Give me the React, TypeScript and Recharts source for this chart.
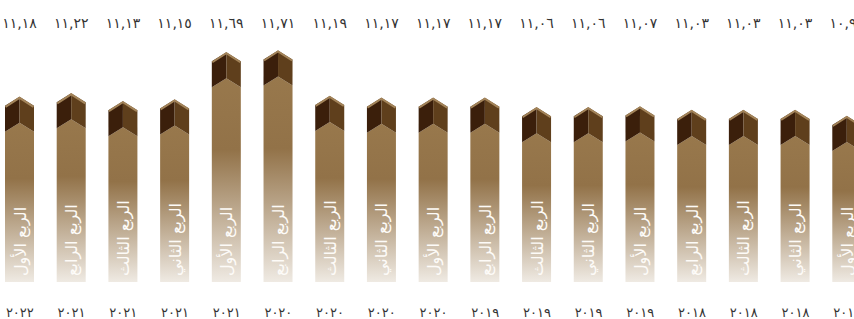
import React from "react";
import { BarChart, Bar, XAxis, YAxis, LabelList } from "recharts";

// newest quarter on the left, as in the source graphic
const years = [2022, 2021, 2021, 2021, 2021, 2020, 2020, 2020, 2020, 2019, 2019, 2019, 2019, 2018, 2018, 2018, 2018];
const quarters = [
  "الربع الأول",
  "الربع الرابع",
  "الربع الثالث",
  "الربع الثاني",
  "الربع الأول",
  "الربع الرابع",
  "الربع الثالث",
  "الربع الثاني",
  "الربع الأول",
  "الربع الرابع",
  "الربع الثالث",
  "الربع الثاني",
  "الربع الأول",
  "الربع الرابع",
  "الربع الثالث",
  "الربع الثاني",
  "الربع الأول",
];
const values = [11.18, 11.22, 11.13, 11.15, 11.69, 11.71, 11.19, 11.17, 11.17, 11.17, 11.06, 11.06, 11.07, 11.03, 11.03, 11.03, 10.96];

const rows = values.map((v, i) => ({ key: `${years[i]}-${i}`, value: v, year: years[i], quarter: quarters[i] }));

const AR_DIGITS = "٠١٢٣٤٥٦٧٨٩";
const toArabic = (s: string) => s.replace(/[0-9]/g, (d) => AR_DIGITS[Number(d)]);
const fmtValue = (v: number) => toArabic(v.toFixed(2).replace(".", ","));

const FONT = "'DejaVu Sans', sans-serif";

function PrismBar(props: any) {
  const { x, y, width, height, payload } = props;
  if (!width || !height) return null;
  const cx = x + width / 2;
  const bottom = y + height;
  const rise = 9;
  const cap = 26;
  return (
    <g>
      <path
        d={`M${x},${y + rise + cap} L${cx},${y + cap} L${x + width},${y + rise + cap} L${x + width},${bottom} L${x},${bottom} Z`}
        fill="url(#bodyGrad)"
      />
      <path d={`M${x},${y + rise} L${cx},${y} L${cx},${y + cap} L${x},${y + rise + cap} Z`} fill="#3b1f0b" />
      <path d={`M${cx},${y} L${x + width},${y + rise} L${x + width},${y + rise + cap} L${cx},${y + cap} Z`} fill="#5f3f1c" />
      <path
        d={`M${x + 0.5},${y + rise + 1} L${cx},${y + 1} L${x + width - 0.5},${y + rise + 1}`}
        fill="none"
        stroke="#a3845a"
        strokeWidth={2}
      />
      <text
        transform={`translate(${cx + 6},${bottom - 6}) rotate(-90)`}
        textAnchor="start"
        fill="#fdfbf8"
        fontSize={16}
        fontFamily={FONT}
      >
        {payload.quarter}
      </text>
    </g>
  );
}

function YearTick(props: any) {
  const { x, y, payload, index } = props;
  return (
    <text x={x} y={y + 27} textAnchor="middle" fill="#333" fontSize={13} fontFamily={FONT}>
      {toArabic(String(years[index] ?? payload.value))}
    </text>
  );
}

function TopLabel(props: any) {
  const { x, width, value } = props;
  return (
    <text x={x + width / 2} y={28} textAnchor="middle" fill="#333" fontSize={14} fontFamily={FONT}>
      {fmtValue(value)}
    </text>
  );
}

export default function App() {
  return (
    <div style={{ position: "absolute", left: 0, top: 0, width: 854, height: 319, overflow: "hidden", background: "#fff" }}>
      <div style={{ marginLeft: -6 }}>
        <BarChart width={879} height={319} data={rows} margin={{ top: 40, right: 0, bottom: 7, left: 0 }}>
          <defs>
            <linearGradient id="bodyGrad" x1="0" y1="0" x2="0" y2="1">
              <stop offset="0" stopColor="#98784c" />
              <stop offset="0.35" stopColor="#927248" />
              <stop offset="1" stopColor="#efeae3" />
            </linearGradient>
          </defs>
          <XAxis dataKey="key" axisLine={false} tickLine={false} height={30} tick={<YearTick />} interval={0} />
          <YAxis hide domain={[9.06, 11.83]} allowDataOverflow />
          <Bar dataKey="value" barSize={29} shape={<PrismBar />} isAnimationActive={false}>
            <LabelList dataKey="value" content={<TopLabel />} />
          </Bar>
        </BarChart>
      </div>
    </div>
  );
}
